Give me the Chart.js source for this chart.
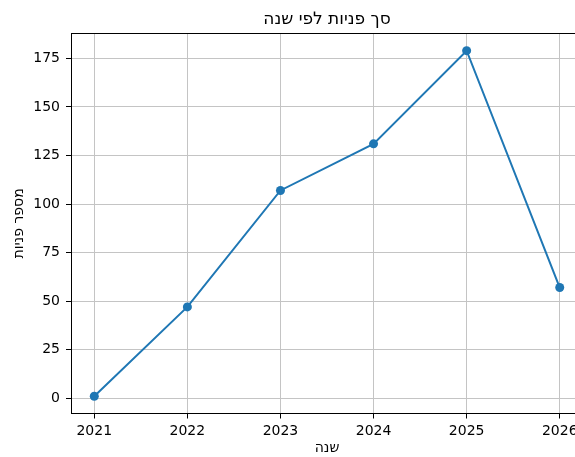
<!DOCTYPE html>
<html>
<head>
<meta charset="utf-8">
<script src="https://cdn.jsdelivr.net/npm/chart.js@4/dist/chart.umd.min.js"></script>
<style>
html,body{margin:0;padding:0;overflow:hidden;background:#fff;width:575px;height:457px;}
canvas{display:block;}
</style>
</head>
<body>
<canvas id="c" width="600" height="457" style="width:600px;height:457px"></canvas>
<script>
const years = [2021, 2022, 2023, 2024, 2025, 2026];
const counts = [1, 47, 107, 131, 179, 57];
const yTicks = [0, 25, 50, 75, 100, 125, 150, 175];
const titleText = 'סך פניות לפי שנה';
const xLabel = 'שנה';
const yLabel = 'מספר פניות';

const FONT = "'DejaVu Sans', sans-serif";

const framePlugin = {
  id: 'frame',
  afterDatasetsDraw(chart) {
    const a = chart.chartArea, ctx = chart.ctx;
    ctx.save();
    ctx.strokeStyle = '#000';
    ctx.lineWidth = 1;
    ctx.strokeRect(Math.round(a.left) + 0.5, Math.round(a.top) + 0.5, Math.round(a.right - a.left), Math.round(a.bottom - a.top));
    ctx.restore();
  }
};

new Chart(document.getElementById('c'), {
  type: 'line',
  data: {
    datasets: [{
      data: years.map((y, i) => ({x: y, y: counts[i]})),
      borderColor: '#1f77b4',
      backgroundColor: '#1f77b4',
      borderWidth: 2,
      pointRadius: 4.5,
      pointBorderWidth: 0,
      pointBackgroundColor: '#1f77b4',
      tension: 0,
      clip: false
    }]
  },
  options: {
    responsive: false,
    animation: false,
    devicePixelRatio: 1,
    layout: {padding: {left: 0, right: 17, top: 0, bottom: 0}},
    plugins: {
      legend: {display: false},
      tooltip: {enabled: false},
      title: {
        display: true,
        text: titleText,
        fullSize: false,
        color: '#000',
        font: {family: FONT, size: 17, weight: 'normal'},
        padding: {top: 9, bottom: 4}
      }
    },
    scales: {
      x: {
        type: 'linear',
        min: 2020.75,
        max: 2026.25,
        afterBuildTicks: s => { s.ticks = years.map(v => ({value: v})); },
        afterFit: s => { s.height = 43.5; },
        ticks: {
          color: '#000',
          font: {family: FONT, size: 14},
          padding: 4,
          maxRotation: 0,
          autoSkip: false,
          callback: v => String(v)
        },
        grid: {color: '#c4c4c4', lineWidth: 1, tickLength: 5, tickColor: '#000', drawTicks: true},
        border: {display: true, color: '#000', width: 1},
        title: {display: true, text: xLabel, color: '#000', font: {family: FONT, size: 14}, padding: {top: 0, bottom: 0}}
      },
      y: {
        type: 'linear',
        min: -7.9,
        max: 187.9,
        afterBuildTicks: s => { s.ticks = yTicks.map(v => ({value: v})); },
        afterFit: s => { s.width = 71; },
        ticks: {
          color: '#000',
          font: {family: FONT, size: 14},
          padding: 6
        },
        grid: {color: '#c4c4c4', lineWidth: 1, tickLength: 5, tickColor: '#000', drawTicks: true},
        border: {display: true, color: '#000', width: 1},
        title: {display: true, text: yLabel, color: '#000', font: {family: FONT, size: 14}, padding: {top: 11, bottom: 0}}
      }
    }
  },
  plugins: [framePlugin]
});
</script>
</body>
</html>
